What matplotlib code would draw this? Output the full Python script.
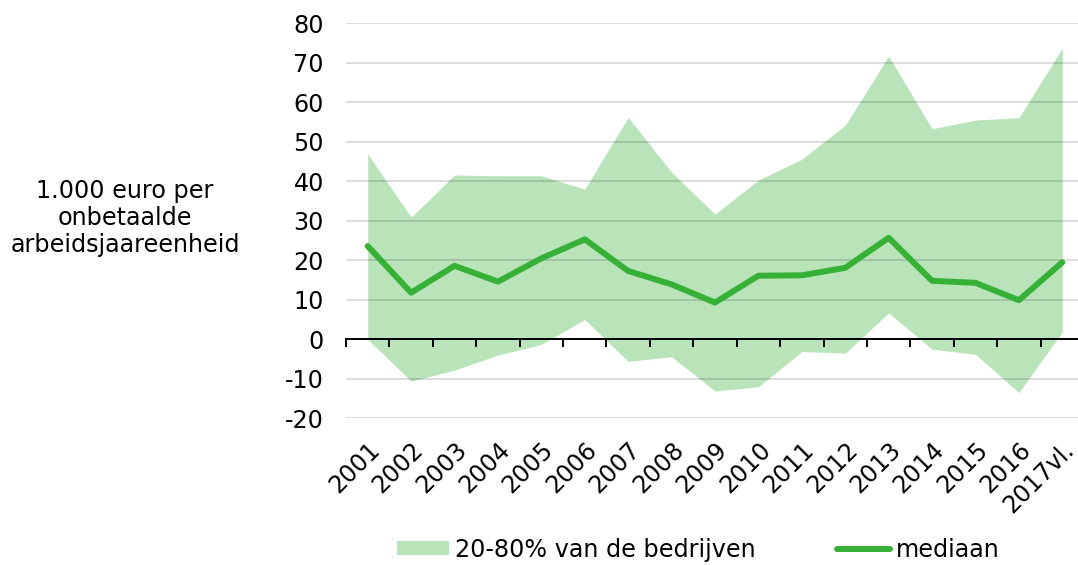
import matplotlib
matplotlib.use("Agg")
import matplotlib.pyplot as plt
import numpy as np

# jaren (categorie-as)
years = ['2001', '2002', '2003', '2004', '2005', '2006', '2007', '2008', '2009',
         '2010', '2011', '2012', '2013', '2014', '2015', '2016', '2017vl.']

# 80% grens, 20% grens en mediaan (1.000 euro per onbetaalde aje)
upper = [46.9, 30.9, 41.6, 41.4, 41.4, 38.0, 56.2, 42.3, 31.7,
         40.3, 45.6, 54.2, 71.7, 53.3, 55.5, 56.1, 73.7]
lower = [0.0, -10.6, -7.8, -4.0, -1.3, 5.0, -5.6, -4.4, -13.1,
         -12.0, -3.1, -3.5, 6.7, -2.5, -3.8, -13.5, 1.9]
median = [23.6, 11.8, 18.6, 14.6, 20.5, 25.3, 17.3, 13.9, 9.3,
          16.1, 16.2, 18.1, 25.7, 14.8, 14.3, 9.9, 19.5]

yticks = [-20, -10, 0, 10, 20, 30, 40, 50, 60, 70, 80]

FS = 17.2
fill_color = '#b9e4b9'
line_color = '#36b037'

fig = plt.figure(figsize=(10.78, 5.65), dpi=100)
ax = fig.add_axes([346 / 1078, 1 - 418.3 / 565, 738 / 1078, (418.3 - 23.3) / 565])

x = np.arange(len(years))
band = ax.fill_between(x, lower, upper, color=fill_color, lw=0, zorder=1,
                       label='20-80% van de bedrijven')
line, = ax.plot(x, median, color=line_color, lw=4.3, zorder=3,
                solid_joinstyle='round', solid_capstyle='round', label='mediaan')

ax.set_xlim(-0.5, len(years) - 0.5)
ax.set_ylim(-20, 80)
ax.set_yticks(yticks)
ax.set_yticklabels([str(v) for v in yticks], fontsize=FS)
ax.tick_params(axis='y', length=0, pad=16)

# grid above the band
ax.set_axisbelow(False)
ax.yaxis.grid(True, color='black', alpha=0.15, lw=1.3)

for s in ['top', 'right', 'left', 'bottom']:
    ax.spines[s].set_visible(False)

ax.set_xticks(x)
ax.set_xticklabels(years, fontsize=FS, rotation=45, ha='right',
                   rotation_mode='anchor')
ax.tick_params(axis='x', length=0, pad=14)

# category axis crossing at zero with boundary ticks
sec = ax.secondary_xaxis(0.2)
sec.set_zorder(2.6)
sec.set_xticks(np.arange(len(years) + 1) - 0.5)
sec.set_xticklabels([])
sec.tick_params(axis='x', direction='out', length=6, width=1.4, color='black')
sec.spines['bottom'].set_linewidth(1.4)
sec.spines['bottom'].set_color('black')

fig.text(125 / 1078, 1 - 218 / 565, '1.000 euro per\nonbetaalde\narbeidsjaareenheid',
         ha='center', va='center', multialignment='center', fontsize=FS,
         linespacing=1.15)

fig.legend(handles=[band, line], loc='center', bbox_to_anchor=(0.6475, 0.0274),
           ncol=2, frameon=False, fontsize=FS, handlelength=2.2,
           handletextpad=0.25, columnspacing=3.4, handleheight=0.55,
           borderpad=0, borderaxespad=0)

fig.savefig('out.png', dpi=100)
